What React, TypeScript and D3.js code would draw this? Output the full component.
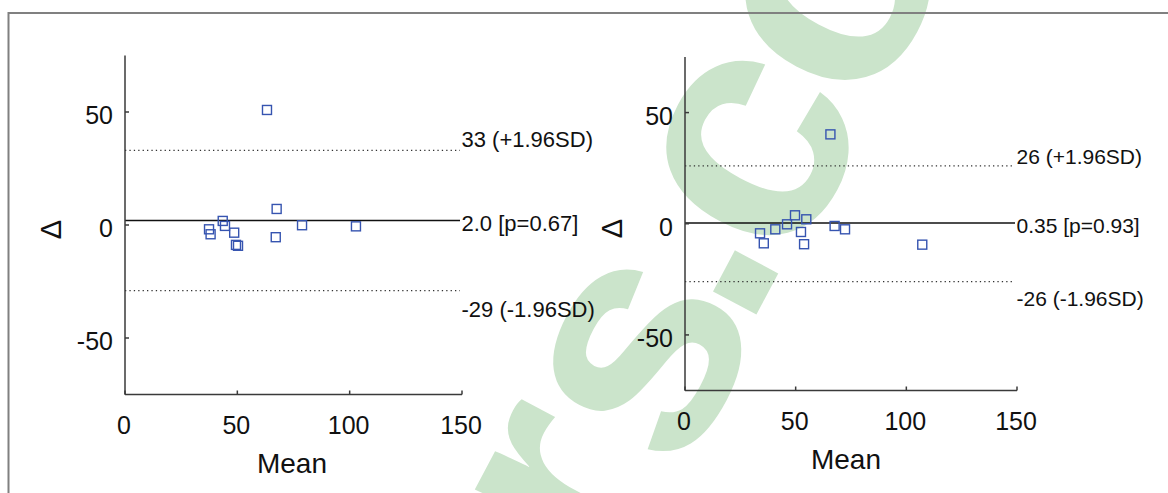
import React from 'react';
import * as d3 from 'd3';

// ---- data ----
const leftMean = [37.4, 38.1, 43.5, 44.5, 48.6, 49.4, 50.3, 67.5, 67.1, 78.8, 102.8, 63.2];
const leftDiff = [-1.9, -4.1, 1.8, -0.4, -3.4, -8.8, -9.2, 7.1, -5.4, -0.1, -0.6, 50.9];
const rightMean = [33.9, 35.6, 40.8, 46.1, 49.7, 52.4, 53.8, 54.8, 67.6, 72.3, 107.2, 65.7];
const rightDiff = [-4.3, -8.8, -2.5, -0.25, 3.8, -3.7, -9.2, 2.0, -1.0, -2.5, -9.4, 40.2];

// limits: [upper, mean, lower]
const leftLimits = [33, 2.0, -29];
const leftLimitLabels = ['33 (+1.96SD)', '2.0 [p=0.67]', '-29 (-1.96SD)'];
const rightLimits = [26, 0.35, -26];
const rightLimitLabels = ['26 (+1.96SD)', '0.35 [p=0.93]', '-26 (-1.96SD)'];

const xTicks = [0, 50, 100, 150];
const yTicks = [-50, 0, 50];
const xDomain = [0, 150];
const yDomain = [-75, 75];
const xTitle = 'Mean';
const yTitle = 'Δ';

// background watermark glyphs (decoration)
const wmGlyphs = ['r', 's', '.', 'c', 'o'];
const wmCenters: [number, number][] = [[570, 492], [645, 357], [747, 283], [754, 150], [836, -12]];

const FONT = '"Liberation Sans", Arial, Helvetica, sans-serif';
const AXIS = '#3a3a3a';
const MARK = '#3654b0';

type Layout = {
  x0: number; x1: number; yTop: number; yBot: number;
  deltaX: number; deltaY: number; titleX: number;
  annSize: number; limitOffsets: number[];
};

const leftLayout: Layout = {
  x0: 125, x1: 462, yTop: 55.5, yBot: 394.5,
  deltaX: 50.5, deltaY: 229.5, titleX: 292,
  annSize: 22, limitOffsets: [-3, 10.5, 26],
};
const rightLayout: Layout = {
  x0: 685, x1: 1017, yTop: 57, yBot: 390.5,
  deltaX: 611.5, deltaY: 228.5, titleX: 846,
  annSize: 21, limitOffsets: [-1.5, 10.5, 24.5],
};

function Panel({ means, diffs, limits, labels, L }: {
  means: number[]; diffs: number[]; limits: number[]; labels: string[]; L: Layout;
}) {
  const x = d3.scaleLinear().domain(xDomain).range([L.x0, L.x1]);
  const y = d3.scaleLinear().domain(yDomain).range([L.yBot, L.yTop]);
  const s = 9;
  return (
    <g>
      {limits.map((v, i) => (
        <g key={'lim' + i}>
          <line
            x1={L.x0} x2={L.x1 - 2} y1={y(v)} y2={y(v)}
            stroke={i === 1 ? '#111' : '#333'}
            strokeWidth={i === 1 ? 1.5 : 1.2}
            strokeDasharray={i === 1 ? undefined : '1.3,3.1'}
          />
          <text
            x={L.x1 - 0.5} y={y(v) + L.limitOffsets[i]}
            fontFamily={FONT} fontSize={L.annSize} fill="#111"
          >{labels[i]}</text>
        </g>
      ))}
      <line x1={L.x0} x2={L.x0} y1={L.yTop} y2={L.yBot} stroke={AXIS} strokeWidth={1.5} />
      <line x1={L.x0} x2={L.x1} y1={L.yBot} y2={L.yBot} stroke={AXIS} strokeWidth={1.5} />
      {yTicks.map((t) => (
        <g key={'yt' + t}>
          <line x1={L.x0} x2={L.x0 + 4} y1={y(t)} y2={y(t)} stroke={AXIS} strokeWidth={1.5} />
          <text x={L.x0 - 12} y={y(t) + 12} textAnchor="end" fontFamily={FONT} fontSize={25} fill="#111">{t}</text>
        </g>
      ))}
      {xTicks.map((t) => (
        <g key={'xt' + t}>
          <line x1={x(t)} x2={x(t)} y1={L.yBot} y2={L.yBot - 4} stroke={AXIS} strokeWidth={1.5} />
          <text x={x(t) - 1} y={L.yBot + 39} textAnchor="middle" fontFamily={FONT} fontSize={25} fill="#111">{t}</text>
        </g>
      ))}
      <text x={L.titleX} y={L.yBot + 78} textAnchor="middle" fontFamily={FONT} fontSize={28} fill="#111">{xTitle}</text>
      <text
        x={L.deltaX} y={L.deltaY}
        transform={`rotate(-90 ${L.deltaX} ${L.deltaY})`}
        textAnchor="middle" dominantBaseline="central"
        fontFamily={FONT} fontSize={29} fill="#111"
      >{yTitle}</text>
      {means.map((m, i) => (
        <rect
          key={'p' + i}
          x={x(m) - s / 2} y={y(diffs[i]) - s / 2} width={s} height={s}
          fill="none" stroke={MARK} strokeWidth={1.4}
        />
      ))}
    </g>
  );
}

export default function App() {
  const F = 330;
  return (
    <svg
      width={1168} height={493}
      style={{ position: 'absolute', left: 0, top: 0, background: '#fff' }}
    >
      <rect x={0} y={0} width={1168} height={493} fill="#fff" />
      <g fill="#cbe4cb" fontFamily={FONT} fontWeight="bold" fontSize={F}>
        {wmGlyphs.map((g, i) => (
          <text
            key={'wm' + i}
            transform={`translate(${wmCenters[i][0]},${wmCenters[i][1]}) rotate(-62)`}
            x={0} y={g === '.' ? 0.07 * F : 0.27 * F}
            textAnchor="middle"
          >{g}</text>
        ))}
      </g>
      <path d="M8.5,493 V13 H1168" fill="none" stroke="#808080" strokeWidth={2} />
      <Panel means={leftMean} diffs={leftDiff} limits={leftLimits} labels={leftLimitLabels} L={leftLayout} />
      <Panel means={rightMean} diffs={rightDiff} limits={rightLimits} labels={rightLimitLabels} L={rightLayout} />
    </svg>
  );
}
